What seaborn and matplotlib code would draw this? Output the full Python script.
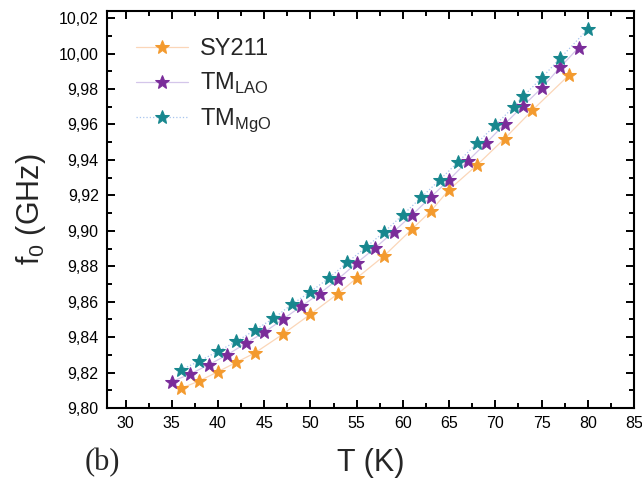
import matplotlib
matplotlib.use("Agg")
import matplotlib.pyplot as plt
import matplotlib.ticker as mticker
import numpy as np
import pandas as pd
import seaborn as sns

# data
t_sy211 = [36, 38, 40, 42, 44, 47, 50, 53, 55, 58, 61, 63, 65, 68, 71, 74, 78]
f_sy211 = [9.8111, 9.8153, 9.8205, 9.8258, 9.8311, 9.8416, 9.8529, 9.8646, 9.8733,
           9.8860, 9.9010, 9.9110, 9.9232, 9.9370, 9.9520, 9.9680, 9.9880]

t_lao = [35, 37, 39, 41, 43, 45, 47, 49, 51, 53, 55, 57, 59, 61, 63, 65, 67, 69, 71, 73, 75, 77, 79]
f_lao = [9.8149, 9.8192, 9.8244, 9.8300, 9.8365, 9.8427, 9.8500, 9.8574, 9.8646, 9.8728,
         9.8818, 9.8903, 9.8995, 9.9090, 9.9189, 9.9288, 9.9393, 9.9495, 9.9602, 9.9705,
         9.9805, 9.9922, 10.0033]

t_mgo = [36, 38, 40, 42, 44, 46, 48, 50, 52, 54, 56, 58, 60, 62, 64, 66, 68, 70, 72, 73, 75, 77, 80]
f_mgo = [9.8216, 9.8265, 9.8320, 9.8376, 9.8440, 9.8506, 9.8585, 9.8656, 9.8733, 9.8822,
         9.8907, 9.8995, 9.9090, 9.9189, 9.9288, 9.9390, 9.9493, 9.9597, 9.9700, 9.9758,
         9.9862, 9.9973, 10.0138]

sns.set_style("ticks")
plt.rcParams['font.family'] = ['Liberation Sans', 'DejaVu Sans']
plt.rcParams['mathtext.fontset'] = 'custom'
plt.rcParams['mathtext.rm'] = 'Liberation Sans'

fig = plt.figure(figsize=(6.42, 4.82), dpi=100)
ax = fig.add_axes([0.1667, 0.1535, 0.8208, 0.8235])

series = [
    (t_sy211, f_sy211, "SY211", "#f39a2e", "#fbd6b8", "-"),
    (t_lao, f_lao, r"TM$_{\mathregular{LAO}}$", "#7a2c9a", "#d4c6ea", "-"),
    (t_mgo, f_mgo, r"TM$_{\mathregular{MgO}}$", "#17878e", "#a6c4ee", ":"),
]
for t, f, name, mc, lc, ls in series:
    df = pd.DataFrame({"T": t, "f": f})
    sns.lineplot(data=df, x="T", y="f", ax=ax, color=lc, linestyle=ls, linewidth=0.9,
                 marker="*", markersize=10, markerfacecolor=mc, markeredgecolor=mc,
                 label=name)

ax.set_xlim(28, 85)
ax.set_ylim(9.80, 10.024)
ax.xaxis.set_major_locator(mticker.MultipleLocator(5))
ax.xaxis.set_minor_locator(mticker.MultipleLocator(2.5))
ax.yaxis.set_major_locator(mticker.MultipleLocator(0.02))
ax.yaxis.set_minor_locator(mticker.MultipleLocator(0.01))
ax.yaxis.set_major_formatter(mticker.FuncFormatter(lambda v, p: f"{v:.2f}".replace(".", ",")))
ax.tick_params(which="both", direction="in", top=True, right=True, width=1.4, labelsize=11.5,
               colors="black")
ax.tick_params(which="major", length=6, pad=6)
ax.tick_params(which="minor", length=3.5)
for s in ax.spines.values():
    s.set_linewidth(1.5)
    s.set_color("black")

ax.set_xlabel("T (K)", fontsize=22, labelpad=12)
ax.set_ylabel(r"f$_{\mathregular{0}}$ (GHz)", fontsize=22, labelpad=8)
fig.text(0.16, 0.04, "(b)", fontsize=22, family=["Liberation Serif", "DejaVu Serif"],
         ha="center", va="center")

leg = ax.legend(loc="upper left", bbox_to_anchor=(0.015, 0.985), frameon=False, fontsize=17,
                handlelength=2.2, handletextpad=0.5, labelspacing=0.45)

fig.savefig("out.png", dpi=100)
